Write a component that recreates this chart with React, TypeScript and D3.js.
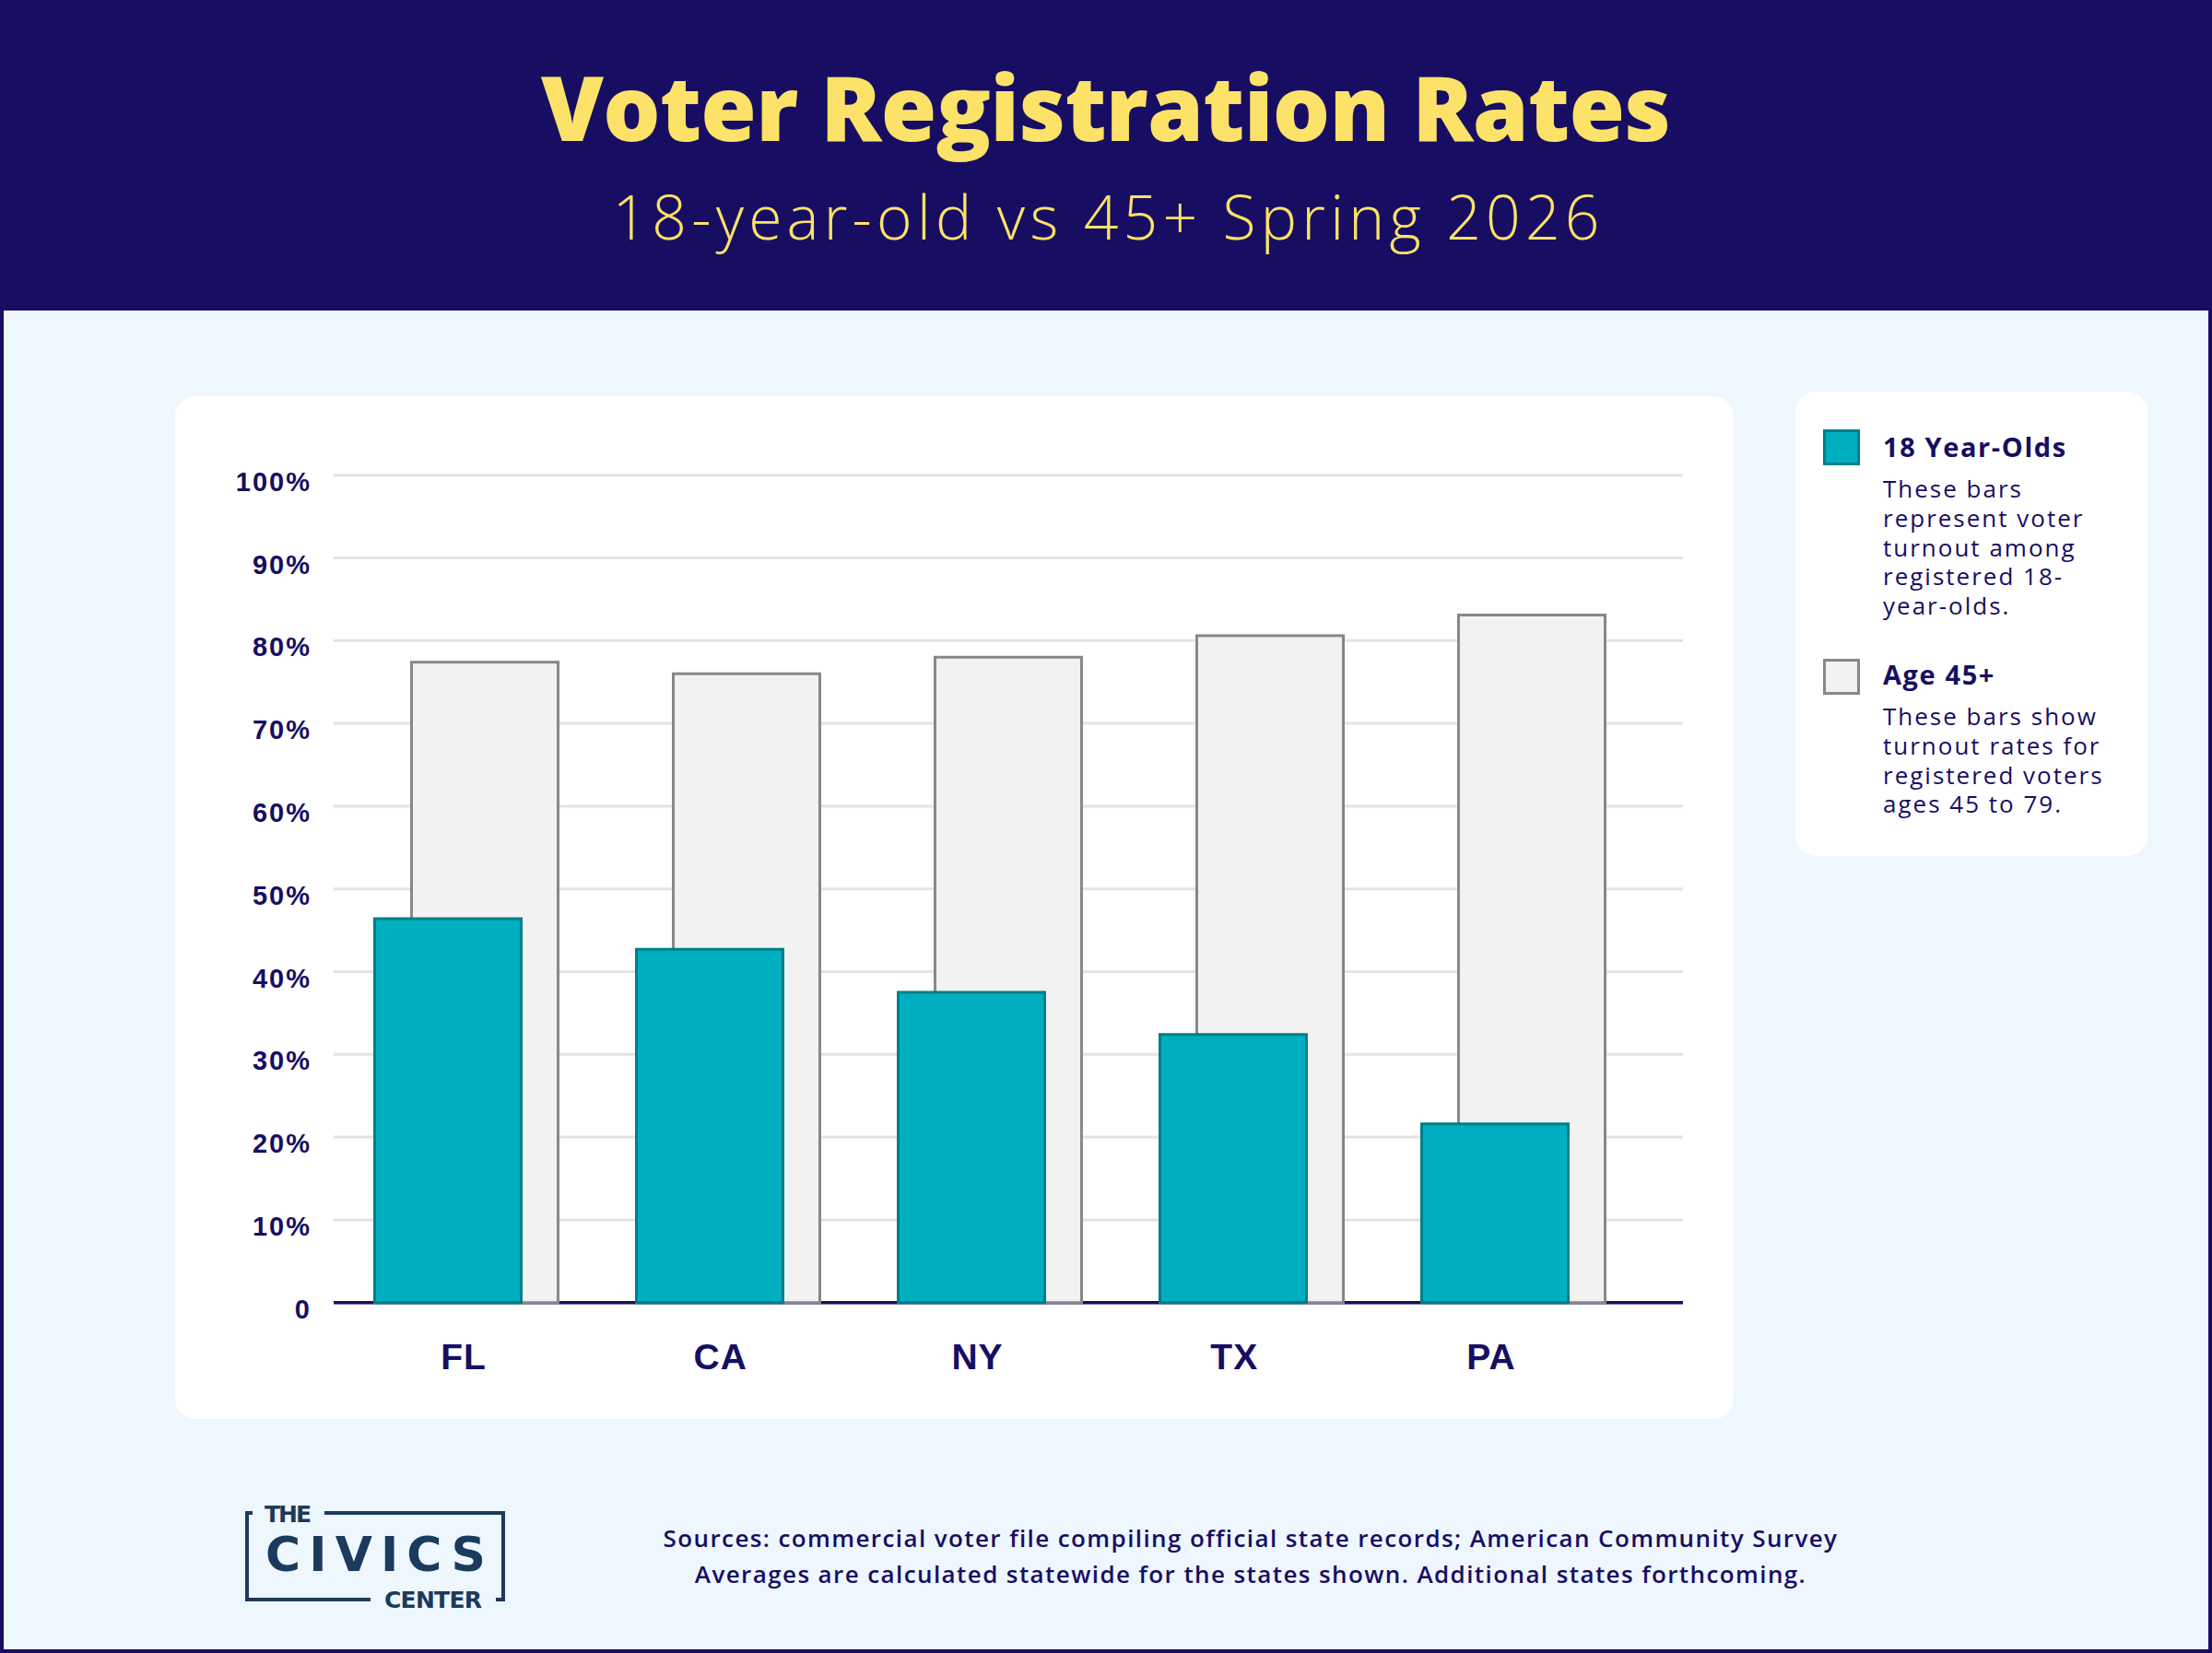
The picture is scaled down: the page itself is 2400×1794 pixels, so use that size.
import React from 'react';
import * as d3 from 'd3';

// chart data
const states = ['FL', 'CA', 'NY', 'TX', 'PA'];
const youthRates = [46.4, 42.7, 37.5, 32.4, 21.6];
const olderRates = [77.4, 76.0, 78.0, 80.6, 83.1];
const yTicks = [0, 10, 20, 30, 40, 50, 60, 70, 80, 90, 100];

const legendItems = [
  { label: '18 Year-Olds', lines: ['These bars', 'represent voter', 'turnout among', 'registered 18-', 'year-olds.'] },
  { label: 'Age 45+', lines: ['These bars show', 'turnout rates for', 'registered voters', 'ages 45 to 79.'] },
];
const sourceLines = [
  'Sources: commercial voter file compiling official state records; American Community Survey',
  'Averages are calculated statewide for the states shown. Additional states forthcoming.',
];

const W = 2400;
const H = 1794;
const NAVY = '#170e63';
const YELLOW = '#fce268';
const TEAL = '#00afbf';
const TEAL_DARK = '#007f89';
const GRAY_FILL = '#f2f2f2';
const GRAY_LINE = '#888888';
const LOGO = '#1b3a5c';
const SANS = '"Liberation Sans", Arial, sans-serif';
const BODY = '"Open Sans", "Noto Sans", sans-serif';
const HEAVY = '"DejaVu Sans", sans-serif';

export default function App() {
  const y = d3.scaleLinear().domain([0, 100]).range([1413.7, 515.7]);
  // bar groups and the category labels sit on slightly different spacings in the original
  const x = d3.scaleBand<string>().domain(states).range([364, 1784]).padding(0);
  const xLabel = d3.scalePoint<string>().domain(states).range([503, 1618]);
  const half = x.bandwidth() / 2;
  const barW = 159;
  const shift = 20;
  const plotLeft = 362;
  const plotRight = 1826;

  return (
    <div style={{ position: 'absolute', left: 0, top: 0 }}>
      <svg width={W} height={H} style={{ display: 'block' }}>
        {/* page background + frame */}
        <rect x={0} y={0} width={W} height={H} fill="#eef6fe" />
        <rect x={2} y={0} width={W - 4} height={H - 2} fill="none" stroke={NAVY} strokeWidth={4} />
        <rect x={0} y={0} width={W} height={337} fill={NAVY} />

        <text x={W / 2} y={153} textAnchor="middle" fill={YELLOW} textLength={1226} lengthAdjust="spacing"
          style={{ font: `800 98px ${BODY}` }}>Voter Registration Rates</text>
        <text x={W / 2} y={260} textAnchor="middle" fill={YELLOW} textLength={1071} lengthAdjust="spacing"
          style={{ font: `300 66px ${BODY}` }}>18-year-old vs 45+ Spring 2026</text>

        {/* chart card */}
        <rect x={190} y={430} width={1691} height={1110} rx={22} fill="#ffffff" />

        {yTicks.map(t => (
          <g key={t}>
            <line x1={plotLeft} x2={plotRight} y1={y(t)} y2={y(t)} stroke="#e3e3e3" strokeWidth={3} />
            <text x={338} y={y(t) + 17} textAnchor="end" fill={NAVY} letterSpacing={2}
              style={{ font: `bold 29px ${SANS}` }}>{t === 0 ? '0' : `${t}%`}</text>
          </g>
        ))}
        <line x1={plotLeft} x2={plotRight} y1={y(0)} y2={y(0)} stroke={NAVY} strokeWidth={3.5} />

        {states.map((s, i) => {
          const c = (x(s) ?? 0) + half;
          return (
            <g key={s}>
              <rect x={c + shift - barW / 2} y={y(olderRates[i])} width={barW}
                height={y(0) - y(olderRates[i])} fill={GRAY_FILL} stroke={GRAY_LINE} strokeWidth={3} />
              <rect x={c - shift - barW / 2} y={y(youthRates[i])} width={barW}
                height={y(0) - y(youthRates[i])} fill={TEAL} stroke={TEAL_DARK} strokeWidth={3} />
              <text x={xLabel(s)} y={1486} textAnchor="middle" fill={NAVY} letterSpacing={1}
                style={{ font: `bold 39px ${SANS}` }}>{s}</text>
            </g>
          );
        })}

        {/* legend card */}
        <rect x={1948} y={425} width={382} height={504} rx={22} fill="#ffffff" />
        {legendItems.map((item, k) => {
          const top = k === 0 ? 467.5 : 716.5;
          const base = k === 0 ? 496 : 743;
          const first = k === 0 ? 540 : 787;
          return (
            <g key={item.label}>
              <rect x={1979.5} y={top} width={37} height={36}
                fill={k === 0 ? TEAL : GRAY_FILL} stroke={k === 0 ? TEAL_DARK : GRAY_LINE} strokeWidth={3} />
              <text x={2043} y={base} fill={NAVY} letterSpacing={1.6}
                style={{ font: `bold 29px ${BODY}` }}>{item.label}</text>
              {item.lines.map((l, j) => (
                <text key={j} x={2043} y={first + j * 31.8} fill={NAVY} letterSpacing={2}
                  style={{ font: `500 26px ${BODY}` }}>{l}</text>
              ))}
            </g>
          );
        })}

        {/* logo */}
        <g stroke={LOGO} strokeWidth={4} fill="none">
          <path d="M274,1642 H268 V1736 H402" />
          <path d="M352,1642 H546 V1736 H538" />
        </g>
        <g fill={LOGO}>
          <text x={287} y={1652} textLength={51} lengthAdjust="spacing"
            style={{ font: `bold 25px ${HEAVY}` }}>THE</text>
          <text x={288} y={1705} textLength={239} lengthAdjust="spacing"
            style={{ font: `bold 52px ${HEAVY}` }}>CIVICS</text>
          <text x={417} y={1745} textLength={106} lengthAdjust="spacing"
            style={{ font: `bold 25px ${HEAVY}` }}>CENTER</text>
        </g>

        {/* sources */}
        {sourceLines.map((l, i) => (
          <text key={i} x={1357} y={1679 + i * 39} textAnchor="middle" fill={NAVY} letterSpacing={1.4}
            style={{ font: `600 26px ${BODY}` }}>{l}</text>
        ))}
      </svg>
    </div>
  );
}
